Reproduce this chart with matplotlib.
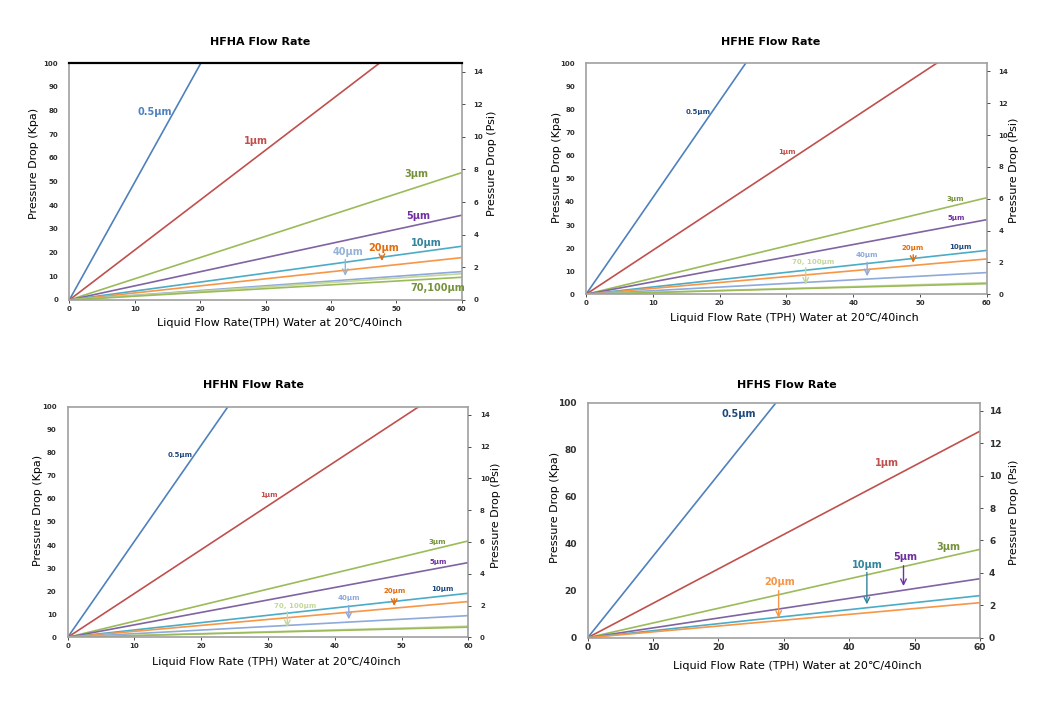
import matplotlib
matplotlib.use('Agg')
import matplotlib.pyplot as plt
import numpy as np

# pressure drop (kPa) of each filter grade at 60 TPH (lines run straight from the origin)
flow_max = 60

hfha_grades = ['0.5µm', '1µm', '3µm', '5µm', '10µm', '20µm', '40µm', '70µm', '100µm']
hfha_dp60 = [298.5, 126.6, 53.8, 35.8, 22.7, 17.9, 12.0, 11.1, 9.6]

hfhe_grades = ['0.5µm', '1µm', '3µm', '5µm', '10µm', '20µm', '40µm', '70µm', '100µm']
hfhe_dp60 = [251.0, 114.3, 41.8, 32.3, 19.0, 15.3, 9.4, 5.0, 4.6]

hfhn_grades = ['0.5µm', '1µm', '3µm', '5µm', '10µm', '20µm', '40µm', '70µm', '100µm']
hfhn_dp60 = [250.0, 114.1, 41.8, 32.4, 19.1, 15.5, 9.4, 4.8, 4.4]

hfhs_grades = ['0.5µm', '1µm', '3µm', '5µm', '10µm', '20µm']
hfhs_dp60 = [208.3, 87.9, 37.6, 25.1, 17.9, 14.9]

line_colors = {'0.5µm': '#4F81BD', '1µm': '#C0504D', '3µm': '#9BBB59', '5µm': '#8064A2',
               '10µm': '#4BACC6', '20µm': '#F79646', '40µm': '#8EA9DB',
               '70µm': '#C3D69B', '100µm': '#9BBB59'}

KPA_TO_PSI = 0.145038
W, H = 1043, 705


def px_axes(left, top, right, bottom):
    return [left / W, 1 - bottom / H, (right - left) / W, (bottom - top) / H]


def fig_text(x, y, s, **kw):
    fig.text(x / W, 1 - y / H, s, ha='center', va='center', **kw)


def draw_panel(rect, grades, dp60, yticks, tick_fs, frame_col, rpad=6):
    ax = fig.add_axes(rect)
    for g, v in zip(grades, dp60):
        ax.plot([0, flow_max], [0, v], color=line_colors[g], lw=1.2, solid_capstyle='butt')
    ax.set_xlim(0, flow_max)
    ax.set_ylim(0, 100)
    ax.set_xticks(np.arange(0, 61, 10))
    ax.set_yticks(yticks)
    ax.tick_params(labelsize=tick_fs, length=2, width=0.6, colors='#303030', pad=2)
    ax.tick_params(axis='y', length=0, pad=8)
    for sp in ax.spines.values():
        sp.set_color(frame_col)
        sp.set_linewidth(1.2)
    ax2 = ax.twinx()
    ax2.set_ylim(0, 100 * KPA_TO_PSI)
    ax2.set_yticks(np.arange(0, 15, 2))
    ax2.tick_params(labelsize=tick_fs, length=2.5, width=0.6, colors='#303030', pad=rpad)
    for sp in ax2.spines.values():
        sp.set_visible(False)
    for lab in ax.get_xticklabels() + ax.get_yticklabels() + ax2.get_yticklabels():
        lab.set_fontweight('bold')
        lab.set_color('#303030')
    return ax


def label(ax, x, y, s, color, fs, arrow_to=None, arrow_x=None):
    ax.text(x, y, s, color=color, fontsize=fs, fontweight='bold', ha='center', va='center')
    if arrow_to is not None:
        ax.annotate('', xy=(arrow_x, arrow_to[1]), xytext=(arrow_x, arrow_to[0]),
                    arrowprops=dict(arrowstyle='->', color=color, lw=1.0))


fig = plt.figure(figsize=(W / 100, H / 100), dpi=100)

xlab_fs = 8
ylab_fs = 8
title_fs = 8

# ---- HFHA ----
ax = draw_panel(px_axes(69.3, 63.3, 461.7, 300), hfha_grades, hfha_dp60,
                np.arange(0, 101, 10), 5, '#A0A0A0')
ax.spines['top'].set_color('black')
ax.spines['top'].set_linewidth(1.6)
label(ax, 13.1, 79.6, '0.5µm', '#4F81BD', 7)
label(ax, 28.6, 67.2, '1µm', '#C0504D', 7)
label(ax, 53.0, 53.1, '3µm', '#76923C', 7)
label(ax, 53.3, 35.5, '5µm', '#7030A0', 7)
label(ax, 54.6, 23.9, '10µm', '#31849B', 7)
label(ax, 48.1, 21.8, '20µm', '#E46C0A', 7, (20.0, 15.3), 47.8)
label(ax, 42.6, 20.4, '40µm', '#95B3D7', 7, (18.3, 9.0), 42.2)
label(ax, 56.3, 5.2, '70,100µm', '#76923C', 7)
fig_text(260, 42, 'HFHA Flow Rate', fontsize=title_fs, fontweight='bold')
fig_text(280, 323, 'Liquid Flow Rate(TPH) Water at 20℃/40inch', fontsize=xlab_fs)
fig_text(34, 163, 'Pressure Drop (Kpa)', fontsize=ylab_fs, rotation=90)
fig_text(492, 163, 'Pressure Drop (Psi)', fontsize=ylab_fs, rotation=90)

# ---- HFHE ----
ax = draw_panel(px_axes(586, 63.3, 986.7, 294.3), hfhe_grades, hfhe_dp60,
                np.arange(0, 101, 10), 5, '#A0A0A0')
label(ax, 16.8, 78.9, '0.5µm', '#1F497D', 5)
label(ax, 30.1, 61.5, '1µm', '#C0504D', 5)
label(ax, 55.3, 41.4, '3µm', '#76923C', 5)
label(ax, 55.5, 32.9, '5µm', '#7030A0', 5)
label(ax, 56.0, 20.6, '10µm', '#1F497D', 5)
label(ax, 48.9, 19.9, '20µm', '#E46C0A', 5, (18.3, 12.4), 49.0)
label(ax, 42.1, 17.0, '40µm', '#8EA9DB', 5, (15.0, 6.6), 42.1)
label(ax, 34.0, 13.9, '70, 100µm', '#C3D69B', 5, (12.7, 3.0), 32.9)
fig_text(771, 42, 'HFHE Flow Rate', fontsize=title_fs, fontweight='bold')
fig_text(794, 318, 'Liquid Flow Rate (TPH) Water at 20℃/40inch', fontsize=xlab_fs)
fig_text(557, 167, 'Pressure Drop (Kpa)', fontsize=ylab_fs, rotation=90)
fig_text(1014, 170, 'Pressure Drop (Psi)', fontsize=ylab_fs, rotation=90)

# ---- HFHN ----
ax = draw_panel(px_axes(67.7, 406.7, 468.3, 637.3), hfhn_grades, hfhn_dp60,
                np.arange(0, 101, 10), 5, '#A0A0A0')
label(ax, 16.8, 79.1, '0.5µm', '#1F497D', 5)
label(ax, 30.2, 61.7, '1µm', '#C0504D', 5)
label(ax, 55.4, 41.5, '3µm', '#76923C', 5)
label(ax, 55.5, 32.8, '5µm', '#7030A0', 5)
label(ax, 56.1, 20.8, '10µm', '#1F497D', 5)
label(ax, 48.9, 20.2, '20µm', '#E46C0A', 5, (18.0, 12.4), 48.9)
label(ax, 42.1, 16.9, '40µm', '#8EA9DB', 5, (15.0, 6.6), 42.1)
label(ax, 34.0, 13.7, '70, 100µm', '#C3D69B', 5, (12.3, 3.2), 32.9)
fig_text(253, 385, 'HFHN Flow Rate', fontsize=title_fs, fontweight='bold')
fig_text(276, 662, 'Liquid Flow Rate (TPH) Water at 20℃/40inch', fontsize=xlab_fs)
fig_text(38, 510, 'Pressure Drop (Kpa)', fontsize=ylab_fs, rotation=90)
fig_text(496, 515, 'Pressure Drop (Psi)', fontsize=ylab_fs, rotation=90)

# ---- HFHS ----
ax = draw_panel(px_axes(587.7, 402.7, 980, 637.7), hfhs_grades, hfhs_dp60,
                np.arange(0, 101, 20), 6.5, '#A0A0A0', rpad=4)
label(ax, 23.1, 95.0, '0.5µm', '#1F497D', 7)
label(ax, 45.7, 74.2, '1µm', '#C0504D', 7)
label(ax, 55.1, 38.7, '3µm', '#76923C', 7)
label(ax, 48.6, 34.2, '5µm', '#7030A0', 7, (31.8, 20.8), 48.3)
label(ax, 42.8, 30.9, '10µm', '#31849B', 7, (29.0, 13.0), 42.7)
label(ax, 29.3, 23.5, '20µm', '#F79646', 7, (21.2, 7.3), 29.2)
fig_text(787, 385, 'HFHS Flow Rate', fontsize=title_fs, fontweight='bold')
fig_text(797, 666, 'Liquid Flow Rate (TPH) Water at 20℃/40inch', fontsize=xlab_fs)
fig_text(555, 507, 'Pressure Drop (Kpa)', fontsize=ylab_fs, rotation=90)
fig_text(1014, 512, 'Pressure Drop (Psi)', fontsize=ylab_fs, rotation=90)

fig.savefig('out.png', dpi=100)
